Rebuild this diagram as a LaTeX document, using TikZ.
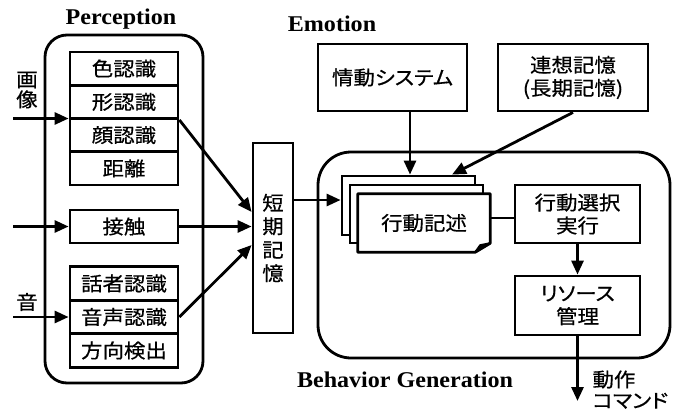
\documentclass[tikz,border=0pt]{standalone}
\usepackage{fontspec}
\usetikzlibrary{arrows.meta,calc}
\newfontfamily\jpf[FakeStretch=1.1,FakeBold=0.6,RawFeature=+palt]{Noto Sans CJK JP}
\newfontfamily\labf[FakeStretch=1.07,BoldFont={Liberation Serif Bold}]{Liberation Serif}
\begin{document}
\begin{tikzpicture}[x=1pt,y=-1pt,
  jp/.style={font=\jpf\fontsize{19.5}{23}\selectfont},
  box/.style={draw,line width=2.8pt,jp,align=center,inner sep=0pt,fill=white},
  cell/.style={box,minimum width=108,minimum height=33.3},
  region/.style={draw,line width=2.8pt,inner sep=0pt},
  lab/.style={font=\labf\bfseries\fontsize{22.5}{26}\selectfont,anchor=base},
  arr/.style={line width=2.8pt,-{Triangle[length=14pt,width=12pt]}},
  ln/.style={line width=2.8pt}]
\useasboundingbox (0,0) rectangle (674,412);

% regions
\node[region,rounded corners=22pt,minimum width=158,minimum height=348] (perc) at (124,209) {};
\node[region,rounded corners=33pt,minimum width=352,minimum height=206] (beh) at (494,255) {};

% labels
\node[lab] (lperc) at (121,25) {Perception};
\node[lab] (lemo) at (332,32) {Emotion};
\node[lab] (lbeh) at (405,387) {Behavior Generation};

% perception cells
\node[cell] (c1) at (124,68.6) {色認識};
\node[cell] (c2) at (124,101.9) {形認識};
\node[cell] (c3) at (124,135.1) {顔認識};
\node[cell] (c4) at (124,168.4) {距離};
\node[cell,minimum height=33] (touch) at (124,226.5) {接触};
\node[cell] (s1) at (124,283.5) {話者認識};
\node[cell] (s2) at (124,317) {音声認識};
\node[cell] (s3) at (124,350.5) {方向検出};

\node[jp,align=center,font=\jpf\fontsize{19.5}{20}\selectfont] (limg) at (27,90) {画\\像};
\node[jp] (lsnd) at (27,302) {音};

% short-term memory
\node[box,minimum width=40,minimum height=190,font=\jpf\fontsize{19.5}{23.5}\selectfont] (stm) at (273,238) {短\\期\\記\\憶};

% emotion / memory
\node[box,minimum width=149,minimum height=67] (emo) at (392.5,77.5) {情動システム};
\node[box,minimum width=150,minimum height=67] (asc) at (573,77.5) {連想記憶\\(長期記憶)};

% behaviour pages
\node[box,minimum width=133,minimum height=59] (pg1) at (408.5,205.5) {};
\node[box,minimum width=133,minimum height=58] (pg2) at (416.5,214) {};
\node[jp,minimum width=132,minimum height=58,inner sep=0pt] (pg3) at (424,223) {};
\draw[line width=2.8pt,fill=white,line join=round]
  (pg3.north west) -- (pg3.north east) -- ($(pg3.south east)+(0,-9)$)
  -- ($(pg3.south east)+(-15,0)$) -- (pg3.south west) -- cycle;
\draw[line width=2pt,fill=black,line join=round]
  ($(pg3.south east)+(-15,0)$) -- ($(pg3.south east)+(-10,-7)$) -- ($(pg3.south east)+(0,-9)$) -- cycle;
\node[jp] (desc) at (pg3.center) {行動記述};

\node[box,minimum width=125,minimum height=58] (act) at (577.5,214) {行動選択\\実行};
\node[box,minimum width=125,minimum height=59] (res) at (577.5,305.5) {リソース\\管理};
\node[jp,align=left,anchor=north west,font=\jpf\fontsize{19.5}{21}\selectfont] (cmd) at (589,367) {動作\\コマンド};

% free ends
\coordinate (inimg) at (13,118.5);
\coordinate (intch) at (13,226.5);
\coordinate (insnd) at (13,317);
\coordinate (out) at (577.5,401);
\coordinate (stmin1) at ($(stm.west)+(0,-26)$);
\coordinate (stmin3) at ($(stm.west)+(0,7)$);
\coordinate (stmo) at ($(stm.east)+(0,-38)$);
\coordinate (emoo) at ($(emo.south)+(17.5,0)$);
\coordinate (ascin) at ($(pg1.north)+(43.5,0)$);
\coordinate (acti) at ($(act.west)+(0,4)$);

% arrows
\draw[arr] (inimg) -- (inimg -| c3.west);
\draw[arr] (intch) -- (touch.west);
\draw[arr] (insnd) -- (s2.west);
\draw[arr] (c2.south east) -- (stmin1);
\draw[arr] (touch.east) -- (touch.east -| stm.west);
\draw[arr] (s2.east) -- (stmin3);
\draw[arr] (stmo) -- (stmo -| pg1.west);
\draw[arr] (emoo) -- (emoo |- pg1.north);
\draw[arr] (asc.south) -- (ascin);
\draw[ln] (acti) -- (acti -| pg3.east);
\draw[arr] (act.south) -- (res.north);
\draw[arr] (res.south) -- (out);
\end{tikzpicture}
\end{document}
